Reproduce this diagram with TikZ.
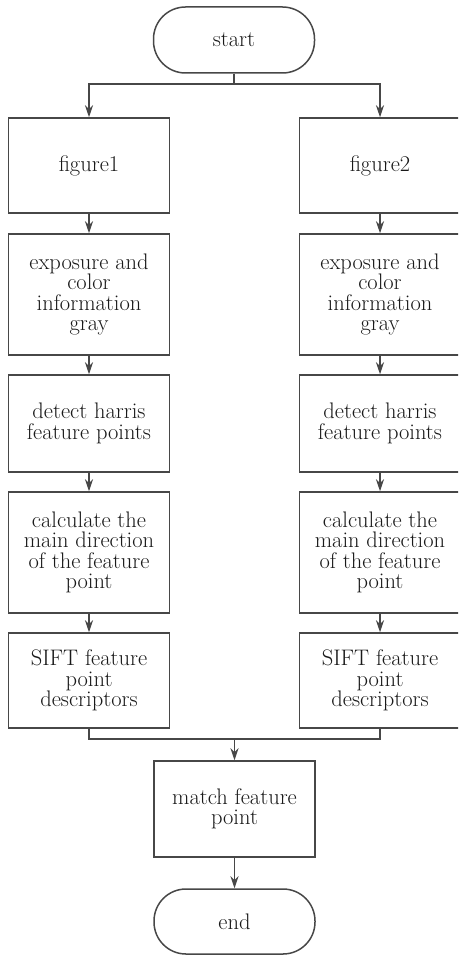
\documentclass[tikz,border=0pt]{standalone}
\usetikzlibrary{arrows.meta}
\begin{document}
\begin{tikzpicture}[x=1pt,y=-1pt,
  line width=1.5pt,
  every node/.style={font=\fontsize{22.5}{20.5}\selectfont, text=black!90, align=center, inner sep=0pt},
  proc/.style={draw=black!72, line width=1.5pt, minimum width=161pt},
  term/.style={draw=black!72, line width=1.5pt, minimum width=161pt, rounded corners=32pt},
  conn/.style={draw=black!72, line width=1.5pt},
  arr/.style={conn, -{Stealth[length=12pt,width=8pt,inset=4pt]}}
]
\useasboundingbox (0,0) rectangle (458,955);
\clip (0,0) rectangle (458,955);

\node[term, minimum height=66pt] (start) at (234,40) {start};

\node[proc, minimum height=95pt]  (l1) at (89,165.5) {figure1};
\node[proc, minimum height=121pt] (l2) at (89,294.5) {exposure and\\color\\information\\gray};
\node[proc, minimum height=97pt]  (l3) at (89,423.5) {detect harris\\feature points};
\node[proc, minimum height=121pt] (l4) at (89,552.5) {calculate the\\main direction\\of the feature\\point};
\node[proc, minimum height=95pt]  (l5) at (89,680.5) {SIFT feature\\point\\descriptors};

\node[proc, minimum height=95pt]  (r1) at (380,165.5) {figure2};
\node[proc, minimum height=121pt] (r2) at (380,294.5) {exposure and\\color\\information\\gray};
\node[proc, minimum height=97pt]  (r3) at (380,423.5) {detect harris\\feature points};
\node[proc, minimum height=121pt] (r4) at (380,552.5) {calculate the\\main direction\\of the feature\\point};
\node[proc, minimum height=95pt]  (r5) at (380,680.5) {SIFT feature\\point\\descriptors};

\node[proc, minimum height=96pt] (match) at (234.5,809) {match feature\\point};
\node[term, minimum height=65pt] (end) at (234.5,921.5) {end};

\coordinate (split) at (234,84);
\coordinate (join) at (234.5,739);

\draw[conn] (start.south) -- (split);
\draw[arr] (split) -| (l1.north);
\draw[arr] (split) -| (r1.north);

\foreach \c in {l,r}{
  \draw[arr] (\c1.south) -- (\c2.north);
  \draw[arr] (\c2.south) -- (\c3.north);
  \draw[arr] (\c3.south) -- (\c4.north);
  \draw[arr] (\c4.south) -- (\c5.north);
}

\draw[conn] (l5.south) |- (join);
\draw[conn] (r5.south) |- (join);
\draw[arr] (join) -- (match.north);
\draw[arr] (match.south) -- (end.north);
\end{tikzpicture}
\end{document}
